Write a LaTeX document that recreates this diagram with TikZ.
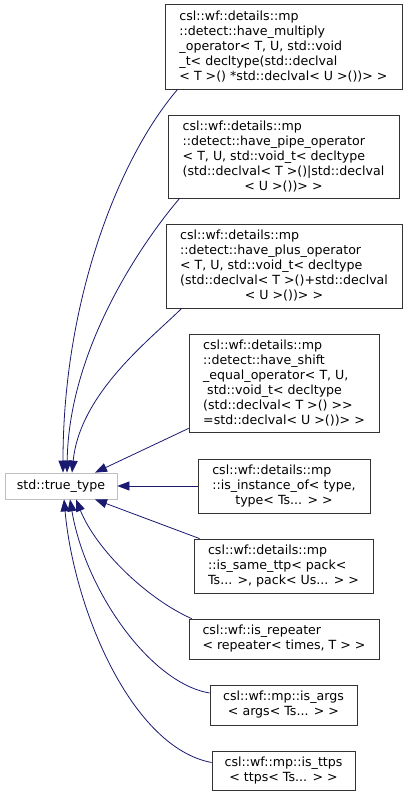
\documentclass[tikz,border=0pt]{standalone}
\usepackage{fontspec}
\setmainfont{DejaVu Sans}
\usepackage{tikz}
\usetikzlibrary{arrows.meta}
\definecolor{edgeblue}{RGB}{25,25,112}

\begin{document}
\begin{tikzpicture}[x=1pt, y=-1pt,
        classbox/.style={
            rectangle, draw=black!80, fill=white, line width=0.8pt,
            inner sep=0pt, align=left,
            font=\fontsize{12.6}{15}\selectfont
        },
        basebox/.style={classbox, draw=black!25},
        inherit/.style={draw=edgeblue, line width=0.8pt,
            -{Triangle[length=12pt, width=9pt, fill=edgeblue]}}
    ]
        \useasboundingbox (0,0) rectangle (408,797);

        \node[basebox, minimum width=112pt, minimum height=26pt] (truetype) at (61,486) {std::true\_type};

        \node[classbox, minimum width=237pt, minimum height=85pt] (multiply) at (283.5,46.5) {
            csl::wf::details::mp\\
            ::detect::have\_multiply\\
            \_operator< T, U, std::void\\
            \_t< decltype(std::declval\\
            \hfil < T >() *std::declval< U >())> >
        };
        \node[classbox, minimum width=231pt, minimum height=83pt] (pipe) at (283.5,156.5) {
            csl::wf::details::mp\\
            ::detect::have\_pipe\_operator\\
            < T, U, std::void\_t< decltype\\
            (std::declval< T >()|std::declval\\
            \hfil < U >())> >
        };
        \node[classbox, minimum width=236pt, minimum height=84pt] (plus) at (284,266) {
            csl::wf::details::mp\\
            ::detect::have\_plus\_operator\\
            < T, U, std::void\_t< decltype\\
            (std::declval< T >()+std::declval\\
            \hfil < U >())> >
        };
        \node[classbox, minimum width=190pt, minimum height=98pt] (shift) at (284,383) {
            csl::wf::details::mp\\
            ::detect::have\_shift\\
            \_equal\_operator< T, U,\\
            ~std::void\_t< decltype\\
            (std::declval< T >() >{}>\\
            \hfil =std::declval< U >())> >
        };
        \node[classbox, minimum width=172pt, minimum height=54pt] (instance) at (284,486) {
            csl::wf::details::mp\\
            ::is\_instance\_of< type,\\
            \hfil type< Ts... > >
        };
        \node[classbox, minimum width=179pt, minimum height=54pt] (samettp) at (283.5,566) {
            csl::wf::details::mp\\
            ::is\_same\_ttp< pack<\\
            \hfil Ts... >, pack< Us... > >
        };
        \node[classbox, minimum width=190pt, minimum height=40pt] (repeater) at (284,639) {
            csl::wf::is\_repeater\\
            \hfil < repeater< times, T > >
        };
        \node[classbox, minimum width=147pt, minimum height=40pt] (isargs) at (283.5,705) {
            csl::wf::mp::is\_args\\
            \hfil < args< Ts... > >
        };
        \node[classbox, minimum width=143pt, minimum height=39pt] (isttps) at (283.5,770.5) {
            csl::wf::mp::is\_ttps\\
            \hfil < ttps< Ts... > >
        };

        % inheritance edges
        \draw[inherit] ([xshift=13pt]multiply.south west) .. controls +(-60,70) and +(0,-170) .. ([xshift=2pt]truetype.north);
        \draw[inherit] ([xshift=12pt]pipe.south west) .. controls +(-30,35) and +(2,-130) .. ([xshift=6pt]truetype.north);
        \draw[inherit] ([xshift=16pt]plus.south west) .. controls +(-30,30) and +(8,-80) .. ([xshift=11pt]truetype.north);
        \draw[inherit] ([yshift=4pt]shift.south west) -- ([xshift=34pt]truetype.north);
        \draw[inherit] (instance.west) -- (truetype.east);
        \draw[inherit] ([xshift=6pt]samettp.north west) -- ([xshift=34pt]truetype.south);
        \draw[inherit] ([xshift=3pt]repeater.north west) .. controls +(-45,-20) and +(20,50) .. ([xshift=15pt]truetype.south);
        \draw[inherit] ([yshift=12pt]isargs.west) .. controls +(-60,-10) and +(15,90) .. ([xshift=9pt]truetype.south);
        \draw[inherit] ([yshift=8pt]isttps.west) .. controls +(-80,-15) and +(10,110) .. ([xshift=3pt]truetype.south);
    \end{tikzpicture}
\end{document}
